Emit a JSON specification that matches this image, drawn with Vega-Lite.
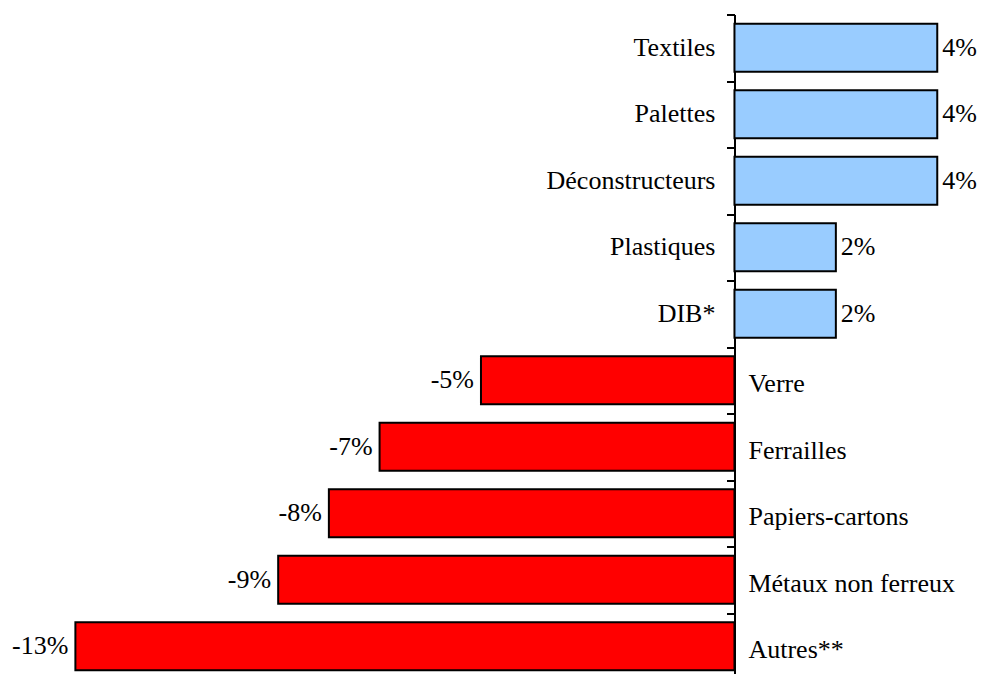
{
  "$schema": "https://vega.github.io/schema/vega-lite/v6.json",
  "width": 984,
  "height": 665,
  "autosize": {"type": "none"},
  "padding": {"top": 14.5, "left": 0, "right": 0, "bottom": 0},
  "background": "white",
  "config": {"view": {"stroke": null}, "text": {"font": "Liberation Serif", "fontSize": 26, "color": "black"}},
  "data": {
    "values": [
      {"category": "Textiles", "value": 4, "label": "4%"},
      {"category": "Palettes", "value": 4, "label": "4%"},
      {"category": "Déconstructeurs", "value": 4, "label": "4%"},
      {"category": "Plastiques", "value": 2, "label": "2%"},
      {"category": "DIB*", "value": 2, "label": "2%"},
      {"category": "Verre", "value": -5, "label": "-5%"},
      {"category": "Ferrailles", "value": -7, "label": "-7%"},
      {"category": "Papiers-cartons", "value": -8, "label": "-8%"},
      {"category": "Métaux non ferreux", "value": -9, "label": "-9%"},
      {"category": "Autres**", "value": -13, "label": "-13%"}
    ]
  },
  "encoding": {
    "y": {
      "field": "category",
      "type": "nominal",
      "sort": null,
      "scale": {"paddingInner": 0, "paddingOuter": 0},
      "axis": {
        "offset": -734.5,
        "labels": false,
        "title": null,
        "tickBand": "extent",
        "tickSize": 8,
        "tickWidth": 2,
        "domainWidth": 2,
        "domainColor": "black",
        "tickColor": "black"
      }
    }
  },
  "layer": [
    {
      "mark": {"type": "bar", "height": {"band": 0.72}, "stroke": "black", "strokeWidth": 2},
      "encoding": {
        "x": {"field": "value", "type": "quantitative", "scale": {"domain": [-14.487, 4.922], "nice": false, "zero": false}, "axis": null},
        "color": {
          "condition": {"test": "datum.value > 0", "value": "#99CCFF"},
          "value": "#FF0000"
        }
      }
    },
    {
      "transform": [{"filter": "datum.value > 0"}],
      "mark": {"type": "text", "align": "right", "baseline": "middle", "dx": -19},
      "encoding": {
        "x": {"datum": 0, "type": "quantitative"},
        "text": {"field": "category"}
      }
    },
    {
      "transform": [{"filter": "datum.value < 0"}],
      "mark": {"type": "text", "align": "left", "baseline": "middle", "dx": 14, "dy": 4},
      "encoding": {
        "x": {"datum": 0, "type": "quantitative"},
        "text": {"field": "category"}
      }
    },
    {
      "transform": [{"filter": "datum.value > 0"}],
      "mark": {"type": "text", "align": "left", "baseline": "middle", "dx": 5},
      "encoding": {
        "x": {"field": "value", "type": "quantitative"},
        "text": {"field": "label"}
      }
    },
    {
      "transform": [{"filter": "datum.value < 0"}],
      "mark": {"type": "text", "align": "right", "baseline": "middle", "dx": -7},
      "encoding": {
        "x": {"field": "value", "type": "quantitative"},
        "text": {"field": "label"}
      }
    }
  ]
}
